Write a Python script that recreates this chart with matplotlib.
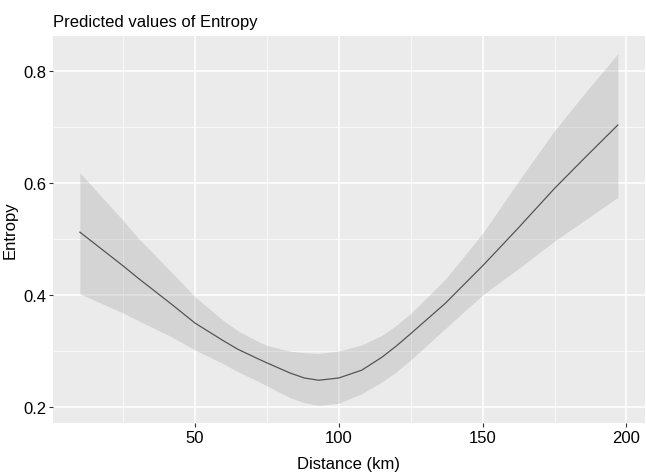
import numpy as np
from matplotlib import pyplot as plt
from matplotlib.ticker import MultipleLocator

plt.rcParams["font.family"] = ["Liberation Sans", "DejaVu Sans"]
plt.rcParams["font.size"] = 12

# values
distance = [10, 25, 30, 42, 50, 60, 65, 72, 75, 83, 88, 93, 100, 108, 115, 120, 125,
            137, 150, 155, 162.5, 175, 186, 197]
predicted = [0.512, 0.452, 0.431, 0.383, 0.350, 0.318, 0.303, 0.286, 0.279, 0.261, 0.252, 0.248,
             0.252, 0.266, 0.289, 0.309, 0.331, 0.385, 0.452, 0.479, 0.520, 0.590, 0.647, 0.703]
upper = [0.618, 0.533, 0.503, 0.440, 0.397, 0.354, 0.336, 0.317, 0.310, 0.300, 0.297, 0.296,
         0.300, 0.311, 0.328, 0.346, 0.367, 0.428, 0.510, 0.547, 0.603, 0.693, 0.763, 0.830]
lower = [0.402, 0.368, 0.355, 0.325, 0.302, 0.277, 0.263, 0.246, 0.238, 0.217, 0.208, 0.203,
         0.207, 0.224, 0.245, 0.263, 0.284, 0.340, 0.400, 0.419, 0.447, 0.496, 0.535, 0.574]
x_ticks = [50, 100, 150, 200]
y_ticks = [0.2, 0.4, 0.6, 0.8]


def expand(lo, hi, frac=0.05):
    pad = (hi - lo) * frac
    return lo - pad, hi + pad


fig = plt.figure(figsize=(6.46, 4.77), dpi=100)
ax = fig.add_axes([0.082, 0.111, 0.916, 0.811])
ax.set_facecolor("#ebebeb")
for s in ax.spines.values():
    s.set_visible(False)

ax.fill_between(distance, lower, upper, color="#999999", alpha=0.27, linewidth=0, zorder=2)
ax.plot(distance, predicted, color="#555555", linewidth=0.9, zorder=3)

ax.set_xlim(*expand(min(distance), max(distance)))
ax.set_ylim(*expand(min(lower), max(upper)))
ax.set_xticks(x_ticks)
ax.set_yticks(y_ticks)
ax.xaxis.set_minor_locator(MultipleLocator(25))
ax.yaxis.set_minor_locator(MultipleLocator(0.1))
ax.grid(which="major", color="white", linewidth=1.1, zorder=1)
ax.grid(which="minor", color="white", linewidth=0.5, zorder=1)
ax.set_axisbelow(True)
ax.tick_params(which="major", length=3, width=0.8, color="#333333", labelsize=12, labelcolor="black", pad=2)
ax.tick_params(which="minor", length=0)
ax.yaxis.set_major_formatter(plt.FuncFormatter(lambda v, p: f"{v:.1f}"))

ax.set_xlabel("Distance (km)", fontsize=12, labelpad=8)
ax.set_ylabel("Entropy", fontsize=12, labelpad=4)
ax.set_title("Predicted values of Entropy", fontsize=12, loc="left", pad=7)

plt.savefig("out.png", dpi=100)
